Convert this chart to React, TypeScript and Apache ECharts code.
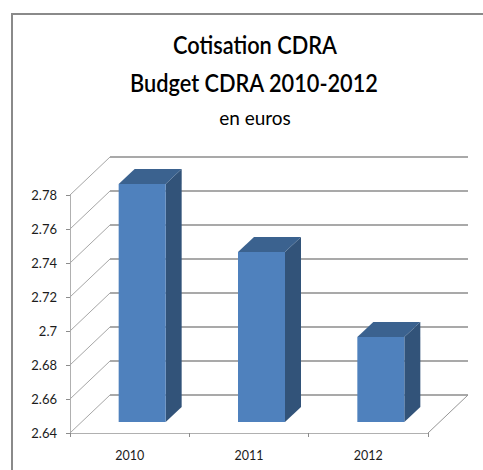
import React, { useEffect, useRef } from "react";
import * as echarts from "echarts";

const categories = ["2010", "2011", "2012"];
const values = [2.78, 2.74, 2.69];
const yTicks = [2.64, 2.66, 2.68, 2.7, 2.72, 2.74, 2.76, 2.78];
const yMin = 2.64;
const yMax = 2.78;
const yStep = 0.02;
const titleLines = ["Cotisation CDRA", "Budget CDRA 2010-2012"];
const subtitle = "en euros";

const W = 483;
const H = 470;
const DX = 40;
const DY = 38;
const FONT = "Lato, Carlito, sans-serif";

export default function App() {
  const ref = useRef<HTMLDivElement>(null);
  useEffect(() => {
    document.body.style.margin = "0";
    const chart = echarts.init(ref.current!, null, { renderer: "svg" });
    chart.setOption({
      animation: false,
      backgroundColor: "#ffffff",
      grid: { left: 70, top: 195, width: 358, height: 238, containLabel: false },
      xAxis: {
        type: "category",
        data: categories,
        axisLine: { lineStyle: { color: "#b0b0b0", width: 1 } },
        axisTick: { show: true, length: 4, lineStyle: { color: "#8c8c8c" } },
        axisLabel: { color: "#1c1c1c", fontFamily: FONT, fontSize: 12.5, margin: 16 },
      },
      yAxis: {
        type: "value",
        min: yMin,
        max: yMax,
        interval: yStep,
        axisLine: { show: true, lineStyle: { color: "#b0b0b0", width: 1 } },
        axisTick: { show: true, length: 4, lineStyle: { color: "#8c8c8c" } },
        axisLabel: { color: "#1c1c1c", fontFamily: FONT, fontSize: 13, margin: 13 },
        splitLine: { show: false },
      },
      graphic: [
        {
          type: "text",
          x: 255,
          y: 32,
          scaleX: 0.87,
          style: {
            text: titleLines[0],
            fontFamily: FONT,
            fontSize: 25,
            fontWeight: 600,
            fill: "#000",
            align: "center",
          },
        },
        {
          type: "text",
          x: 254,
          y: 70,
          scaleX: 0.87,
          style: {
            text: titleLines[1],
            fontFamily: FONT,
            fontSize: 25,
            fontWeight: 600,
            fill: "#000",
            align: "center",
          },
        },
        {
          type: "text",
          x: 255,
          y: 108,
          style: {
            text: subtitle,
            fontFamily: FONT,
            fontSize: 19,
            fill: "#000",
            align: "center",
          },
        },
        {
          type: "polyline",
          silent: true,
          shape: { points: [[12, H], [12, 14], [W, 14]] },
          style: { stroke: "#8a8a8a", lineWidth: 2, fill: "none" },
        },
      ],
      series: [
        {
          type: "custom",
          coordinateSystem: "cartesian2d",
          clip: false,
          z: 1,
          encode: { y: 0 },
          data: yTicks.map((v) => [v]),
          renderItem: (params: any, api: any) => {
            const v = api.value(0);
            const cs = params.coordSys;
            const y = api.coord([0, v])[1];
            const x0 = cs.x;
            const x1 = cs.x + cs.width;
            return {
              type: "group",
              children: [
                {
                  type: "line",
                  shape: { x1: x0, y1: y, x2: x0 + DX, y2: y - DY },
                  style: { stroke: "#a6a6a6", lineWidth: 1 },
                },
                {
                  type: "line",
                  shape: { x1: x0 + DX, y1: y - DY, x2: x1 + DX, y2: y - DY },
                  style: { stroke: "#8c8c8c", lineWidth: 1.3 },
                },
              ],
            };
          },
        },
        {
          type: "custom",
          coordinateSystem: "cartesian2d",
          clip: false,
          z: 1,
          encode: { y: 0 },
          data: [[yMin]],
          renderItem: (params: any, api: any) => {
            const y = api.coord([0, api.value(0)])[1];
            const x1 = params.coordSys.x + params.coordSys.width;
            return {
              type: "line",
              shape: { x1, y1: y, x2: x1 + DX, y2: y - DY },
              style: { stroke: "#969696", lineWidth: 1 },
            };
          },
        },
        {
          type: "custom",
          coordinateSystem: "cartesian2d",
          clip: false,
          z: 2,
          encode: { x: 0, y: 1 },
          data: values.map((v, i) => [i, v]),
          renderItem: (_params: any, api: any) => {
            const idx = api.value(0);
            const top = api.coord([idx, api.value(1)]);
            const base = api.coord([idx, yMin]);
            const lift = 11;
            const cx = top[0] + 12.5;
            const w = 47;
            const d = 16;
            const dv = 15;
            const l = cx - w / 2;
            const r = cx + w / 2;
            const t = top[1] - lift;
            const b = base[1] - lift;
            return {
              type: "group",
              children: [
                {
                  type: "polygon",
                  shape: { points: [[r, t], [r + d, t - dv], [r + d, b - dv], [r, b]] },
                  style: { fill: "#325379" },
                },
                {
                  type: "polygon",
                  shape: { points: [[l, t], [l + d, t - dv], [r + d, t - dv], [r, t]] },
                  style: { fill: "#3b628f" },
                },
                {
                  type: "rect",
                  shape: { x: l, y: t, width: w, height: b - t },
                  style: { fill: "#4f81bd" },
                },
              ],
            };
          },
        },
      ],
    });
    return () => chart.dispose();
  }, []);
  return <div ref={ref} style={{ width: W, height: H }} />;
}
